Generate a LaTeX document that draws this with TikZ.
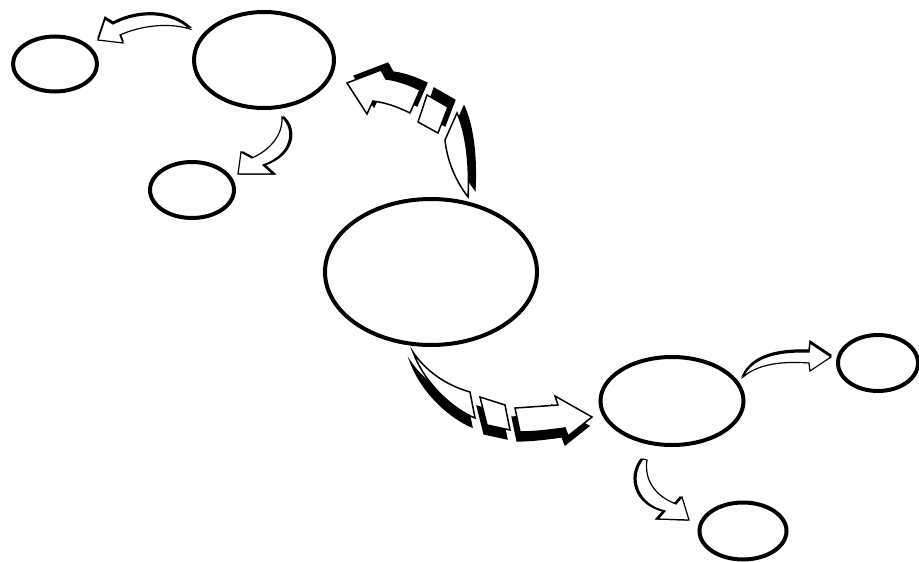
\documentclass[tikz,border=0pt]{standalone}
\usetikzlibrary{shapes.geometric}
\begin{document}
\begin{tikzpicture}[x=1pt,y=-1pt]
	% Styles des bulles et des flèches (ombre noire décalée)
	\tikzset{
		bulle/.style={ellipse, draw=black, line width=4pt, inner sep=0pt},
		fleche/.style={fill=white, draw=black, line width=1.2pt, line join=miter,
			preaction={fill=black, draw=black, line width=1.2pt, transform canvas={shift={#1}}}},
		bloc/.style={fleche={#1}, line width=1.5pt},
	}
	\useasboundingbox (0,0) rectangle (919,562);
	% Bulles
	\node[bulle, minimum width=84pt, minimum height=55pt] (gauche) at (55,64) {};
	\node[bulle, minimum width=140pt, minimum height=96pt] (haut) at (264,60) {};
	\node[bulle, minimum width=84pt, minimum height=56pt] (milieu) at (192,190) {};
	\node[bulle, minimum width=212pt, minimum height=146pt] (centre) at (431,272) {};
	\node[bulle, minimum width=143pt, minimum height=88pt] (droite) at (672,401) {};
	\node[bulle, minimum width=80pt, minimum height=56pt] (coin) at (878,363) {};
	\node[bulle, minimum width=87pt, minimum height=57pt] (bas) at (743,531) {};
	% Petites flèches
	\draw[fleche={(0,-2)}] (190,29) .. controls (172,12) and (140,10) .. (113,24)
		-- (105,19) -- (98,40) -- (123,43) -- (120,35)
		.. controls (140,26) and (168,22) .. (190,29) -- cycle;
	\draw[fleche={(2,0)}] (282,117) .. controls (296,130) and (292,155) .. (263,165)
		-- (273,174) -- (238,174) -- (241,152) -- (252,158)
		.. controls (270,150) and (283,135) .. (282,117) -- cycle;
	\draw[fleche={(0,-2)}] (743,377) .. controls (752,358) and (775,351) .. (809,352)
		-- (810,343) -- (831,357) -- (810,371) -- (809,363)
		.. controls (782,361) and (758,364) .. (743,377) -- cycle;
	\draw[fleche={(-2,0)}] (643,459) .. controls (628,478) and (638,505) .. (665,511)
		-- (658,519) -- (689,520) -- (682,497) -- (676,504)
		.. controls (655,496) and (644,480) .. (647,460) -- cycle;
	% Grande flèche vers le haut
	\draw[bloc={(7,-7)}] (468,197) .. controls (455,180) and (447,160) .. (445,140)
		-- (457,113) .. controls (465,130) and (470,160) .. (468,197) -- cycle;
	\draw[bloc={(7,-7)}] (418,122) -- (427,95) -- (448,107) -- (438,133) -- cycle;
	\draw[bloc={(7,-7)}] (410,113) -- (420,90) .. controls (408,84) and (396,80) .. (386,79)
		-- (381,70) -- (347,83) -- (367,114) -- (373,101)
		.. controls (388,103) and (400,108) .. (410,113) -- cycle;
	% Grande flèche vers le bas
	\draw[bloc={(-3,9)}] (413,352) .. controls (425,370) and (445,385) .. (470,392)
		-- (475,418) .. controls (455,410) and (425,385) .. (413,352) -- cycle;
	\draw[bloc={(-3,9)}] (480,397) -- (505,405) -- (510,430) -- (487,425) -- cycle;
	\draw[bloc={(-3,9)}] (515,408) .. controls (530,407) and (545,406) .. (558,405)
		-- (555,396) -- (592,417) -- (568,436) -- (565,428)
		.. controls (550,430) and (535,432) .. (520,432) -- cycle;
\end{tikzpicture}
\end{document}
